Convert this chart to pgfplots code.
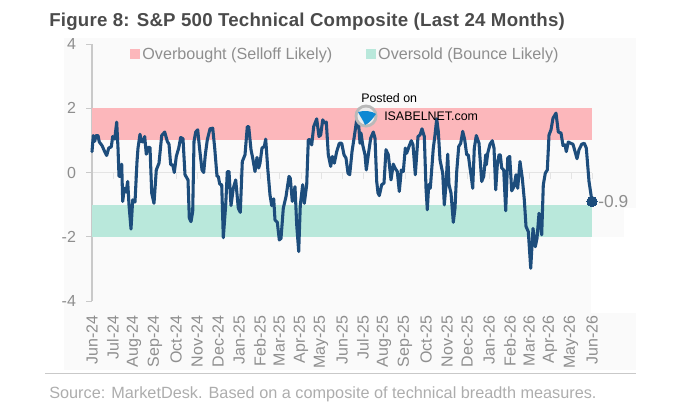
\documentclass[border=0pt]{standalone}
\usepackage{fontspec}
\setmainfont{Liberation Sans}
\usepackage{pgfplots}
\pgfplotsset{compat=1.18}
\definecolor{navy}{HTML}{1D4D7C}
\definecolor{pinkband}{HTML}{FCB7BB}
\definecolor{greenband}{HTML}{B9E8DB}
\definecolor{panel}{HTML}{FAFAFA}
\definecolor{axisgray}{HTML}{C9C9C9}
\definecolor{zerogray}{HTML}{E4E4E4}
\definecolor{labelgray}{HTML}{8E8E8E}
\definecolor{sourcegray}{HTML}{ADADAD}
\definecolor{titlegray}{HTML}{4B4B4B}
\begin{document}
\begin{tikzpicture}[x=0.75pt,y=0.75pt]
\path[use as bounding box] (0,0) rectangle (680,408);
\fill[panel] (64,38) rectangle (636,370);
\fill[white] (591,95) rectangle (637,171);
\fill[white] (624,171) rectangle (637,200);
\begin{axis}[
  at={(69pt,80.25pt)}, anchor=south west,
  scale only axis, width=375pt, height=192.75pt,
  xmin=0, xmax=500, ymin=-4, ymax=4,
  axis y line=left, axis x line=middle,
  axis line style={-},
  y axis line style={axisgray, line width=0.9pt},
  x axis line style={zerogray, line width=0.8pt},
  hide obscured x ticks=false,
  ytick={-4,-2,0,2,4},
  yticklabels={-4,-2,0,2,4},
  xtick={0,21,42,63,84,105,126,147,168,187,209,229,250,271,292,313,334,355,375,397,418,437,458,479,500},
  xticklabels={Jun-24,Jul-24,Aug-24,Sep-24,Oct-24,Nov-24,Dec-24,Jan-25,Feb-25,Mar-25,Apr-25,May-25,Jun-25,Jul-25,Aug-25,Sep-25,Oct-25,Nov-25,Dec-25,Jan-26,Feb-26,Mar-26,Apr-26,May-26,Jun-26},
  tick align=outside,
  major tick length=4.5pt,
  x tick style={zerogray, line width=0.6pt},
  y tick style={axisgray, line width=0.6pt},
  xticklabel style={yshift=-102.5pt, rotate=90, anchor=east, font=\fontsize{12}{12}\selectfont, text=labelgray, inner sep=0pt},
  yticklabel style={xshift=-4pt, font=\fontsize{12}{12}\selectfont, text=labelgray},
  clip=false,
  legend columns=2,
  legend style={at={(0.067,1.008)}, anchor=north west, draw=none, fill=none,
    font=\fontsize{12.1}{12}\selectfont, text=labelgray,
    /tikz/every even column/.append style={column sep=23pt}},
  legend cell align=left,
  legend image code/.code={\fill[#1] (0pt,-3.75pt) rectangle (7.5pt,3.75pt);},
]
\addplot[fill=pinkband, draw=none, forget plot] coordinates {(0,1) (500,1) (500,2) (0,2)} -- cycle;
\addplot[fill=greenband, draw=none, forget plot] coordinates {(0,-2) (500,-2) (500,-1) (0,-1)} -- cycle;
\addlegendimage{fill=pinkband, draw=none}
\addlegendentry{Overbought (Selloff Likely)}
\addlegendimage{fill=greenband, draw=none}
\addlegendentry{Oversold (Bounce Likely)}
\addplot[navy, line width=2.3pt, line join=round, line cap=round, forget plot] table {
0 .65
1.3 1.15
2.7 .97
4 1.15
6 1.15
7.3 .95
10 .84
12.7 .65
14.7 .53
16.7 .76
19.3 .80
20.7 1.12
22.7 1.04
24.7 1.57
26 .76
27 -.12
28.3 -.12
29.7 .26
30.7 -.90
32.3 -.49
34 -.61
35.7 -.28
37 -1.01
39 -1.76
40.7 -.85
43 -.92
45 .34
46 .76
48 1.19
49.3 .97
51 .95
52.7 1.12
54.3 .57
56 .78
58 .78
59.7 -.64
62 -.96
64.3 .08
67 .29
69.7 1.15
72.7 1.26
75.3 .97
77 .88
78.7 .24
80.7 .24
82.3 0
84.3 .50
86.7 .76
88.7 1.09
91 1.05
93 -.07
96 -.23
97.3 -1.42
99 -1.53
100.7 -1.22
102 .97
103.7 1.26
105.7 1.33
107.7 .71
110 .08
111.7 0
113.3 .55
115.3 1.02
118 1.36
120.7 1.38
122.7 .76
125 -.12
126.3 -.12
127.7 -.36
129.7 -.38
131.3 -2.03
133.7 -1.01
135.3 .03
137 .03
139 -1.03
141.3 -.49
143.7 -.23
146.3 -1.11
148.3 -1.24
150.3 .34
153 .55
155.3 1.43
156.7 1.43
159 .71
160.7 .45
163 .03
165 .47
166.7 .14
168 .29
170 .76
172.3 .81
173.7 1.04
175.7 .14
178 -.70
179.7 -1.03
181.7 -.82
183 -1.48
185.3 -1.55
187.3 -2.10
189 -2.05
191.3 -1.11
194 -.75
197 -.12
198.3 -.18
200.3 -.90
203 -.44
204.7 -1.63
206.7 -2.46
208.3 -1.01
210.7 -.38
212.3 -.96
214.7 -.38
216.3 1.02
218 1.02
219.7 .86
221.7 1.43
224.7 1.67
227 1.12
228.7 1.17
230.7 1.64
232.3 1.54
234.3 1.57
236.3 .55
238.7 .19
240.3 .50
242.3 .29
244.7 .65
247.3 .91
249.7 .91
252 .55
254 .45
256 -.02
257.7 -.07
260 .65
262.3 1.12
264.7 1.64
266.3 1.64
268 .91
269 1.23
270.7 .86
273 .55
274.3 .08
276.3 .55
278.7 1.07
281.3 1.26
283 1.07
284.7 -.28
286 -.64
287.3 -.72
289.7 -.38
292 -.33
294 .71
296.3 .55
299 -.23
301.3 .26
303 .14
305.3 .03
307.3 -.59
309.3 .08
311.3 .03
313.3 .76
314.7 .60
317 .81
319.3 .99
321 .86
323.3 -.07
326 1.12
328 1.17
330 1.36
332.3 1.12
334 -.49
335.3 -1.16
336.7 -.38
338.3 -.49
341.3 .76
343 1.17
344.7 1.67
346.3 1.28
348 .39
350.7 -.02
352.3 -1.01
354 -.38
355.7 .57
357 -.38
359 -.64
361.3 -1.55
363 -1.11
364.7 .03
366.7 .81
368.7 .91
370.7 1.28
372.7 1.02
374.7 .55
376.3 .55
378 .14
379 -.07
380.7 -.49
382.3 .76
384.3 1.15
387 .91
389.7 -.28
391.7 -.12
393.7 .55
394.3 .24
395.7 .60
398 .88
400.3 .99
402 .76
403.7 -.54
405.3 .24
407 .55
408.3 .55
409.7 .14
411.7 .08
413.7 -1.19
415.7 .45
417.7 .50
419.7 -.57
422 -.44
424 -.07
425.7 -.49
428 .34
430.3 -.18
432.3 -.85
434 -1.68
436.3 -1.84
438.7 -2.98
441 -1.74
443.3 -2.31
445 -2.05
447 -1.27
449.7 -1.94
451.3 -.38
453.3 -.02
455.3 .08
457 1.17
459 1.33
461 1.69
464 1.85
466.3 1.26
469 1.23
471 .84
473 .86
474.3 .65
476.3 .95
478.7 .91
481 .88
485 .43
487 .71
489.7 .88
492.3 .91
494.3 .76
497 -.28
500 -.9
};
\addplot[only marks, mark=*, mark size=3.9pt, mark options={fill=navy, draw=navy, line width=0pt}, forget plot,
  nodes near coords={-0.9}, nodes near coords style={anchor=west, xshift=1.5pt, font=\fontsize{13}{13}\selectfont, text=labelgray}] coordinates {(500,-0.9)};
\end{axis}
% title, source and watermark
\node[anchor=base west, inner sep=0pt, text=titlegray, font=\bfseries\fontsize{14}{16}\selectfont\addfontfeature{LetterSpace=1.2}] at (49,381) {Figure 8: S\&P 500 Technical Composite (Last 24 Months)};
\draw[axisgray, line width=1.1pt] (45,34.5) -- (636,34.5);
\node[anchor=base west, inner sep=0pt, text=sourcegray, font=\fontsize{12.2}{13}\selectfont] at (49,10) {Source: MarketDesk. Based on a composite of technical breadth measures.};
\node[anchor=base west, inner sep=0pt, font=\fontsize{9.3}{11}\selectfont] at (361,306) {Posted on};
\node[anchor=base west, inner sep=0pt, font=\fontsize{9.3}{11}\selectfont] at (384,288) {ISABELNET.com};
\fill[gray!55] (366,292) circle (11.5);
\fill[white!85!gray] (366,292) circle (8.5);
\fill[cyan!70!blue] (358,296) .. controls (364,298) and (372,297) .. (376,294) .. controls (372,288) and (368,284) .. (365,283) .. controls (363,288) and (360,292) .. (358,296) -- cycle;
\end{tikzpicture}
\end{document}
